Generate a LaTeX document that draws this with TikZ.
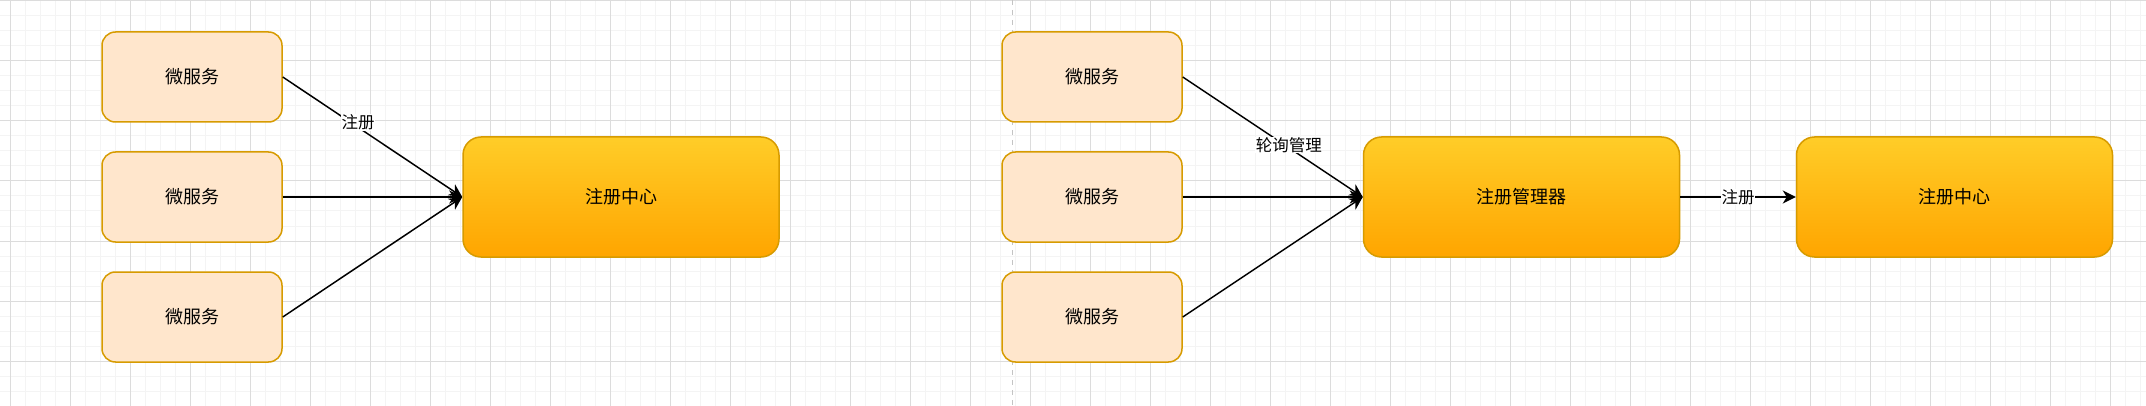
\documentclass[tikz,border=0pt]{standalone}
\usepackage{fontspec}
\setmainfont{Noto Sans CJK SC}
\usetikzlibrary{arrows.meta}
\definecolor{msfill}{HTML}{FFE6CC}
\definecolor{msline}{HTML}{D79B00}
\definecolor{gtop}{HTML}{FFCD28}
\definecolor{gbot}{HTML}{FFA500}
\definecolor{minorgrid}{HTML}{F4F4F4}
\definecolor{majorgrid}{HTML}{DCDCDC}
\definecolor{sepline}{HTML}{C4C4C4}
\begin{document}
\begin{tikzpicture}[x=1pt,y=1pt,
  msbox/.style={rectangle, rounded corners=13.5pt, fill=msfill, draw=msline, line width=1.5pt,
    minimum width=180pt, minimum height=90pt, inner sep=0pt, font=\fontsize{18}{22}\selectfont},
  regbox/.style={rectangle, rounded corners=18pt, top color=gtop, bottom color=gbot, draw=msline, line width=1.5pt,
    minimum width=316pt, minimum height=120pt, inner sep=0pt, font=\fontsize{18}{22}\selectfont},
  conn/.style={line width=1.5pt, -{Stealth[length=13pt,width=13pt,inset=4pt]}},
  elabel/.style={fill=white, inner sep=0.5pt, font=\fontsize{16.5}{18}\selectfont}
]
\useasboundingbox (0,0) rectangle (2146,-406);
\fill[white] (0,0) rectangle (2146,-406);
% grid
\foreach \x in {10,25,...,2146} \draw[minorgrid, line width=1pt] (\x,0) -- (\x,-406);
\foreach \y in {1,16,...,406} \draw[minorgrid, line width=1pt] (0,-\y) -- (2146,-\y);
\foreach \x in {10,70,...,2146} \draw[majorgrid, line width=1pt] (\x,0) -- (\x,-406);
\foreach \y in {1,61,...,406} \draw[majorgrid, line width=1pt] (0,-\y) -- (2146,-\y);
% separator
\coordinate (septop) at (1012,0);
\coordinate (sepbot) at (1012,-406);
\draw[sepline, line width=1pt, dash pattern=on 5pt off 5pt] (septop) -- (sepbot);
% left half
\node[msbox] (a1) at (192,-77) {微服务};
\node[msbox] (a2) at (192,-197) {微服务};
\node[msbox] (a3) at (192,-317) {微服务};
\node[regbox] (reg1) at (621,-197) {注册中心};
\draw[conn] (a1.east) -- (reg1.west) node[elabel, pos=0.42, yshift=5pt] {注册};
\draw[conn] (a2.east) -- (reg1.west);
\draw[conn] (a3.east) -- (reg1.west);
% right half
\node[msbox] (b1) at (1092,-77) {微服务};
\node[msbox] (b2) at (1092,-197) {微服务};
\node[msbox] (b3) at (1092,-317) {微服务};
\node[regbox] (mgr) at (1521.5,-197) {注册管理器};
\node[regbox] (reg2) at (1954.5,-197) {注册中心};
\draw[conn] (b1.east) -- (mgr.west) node[elabel, pos=0.59, yshift=3pt] {轮询管理};
\draw[conn] (b2.east) -- (mgr.west);
\draw[conn] (b3.east) -- (mgr.west);
\draw[conn] (mgr.east) -- (reg2.west) node[elabel, pos=0.5] {注册};
\end{tikzpicture}
\end{document}
